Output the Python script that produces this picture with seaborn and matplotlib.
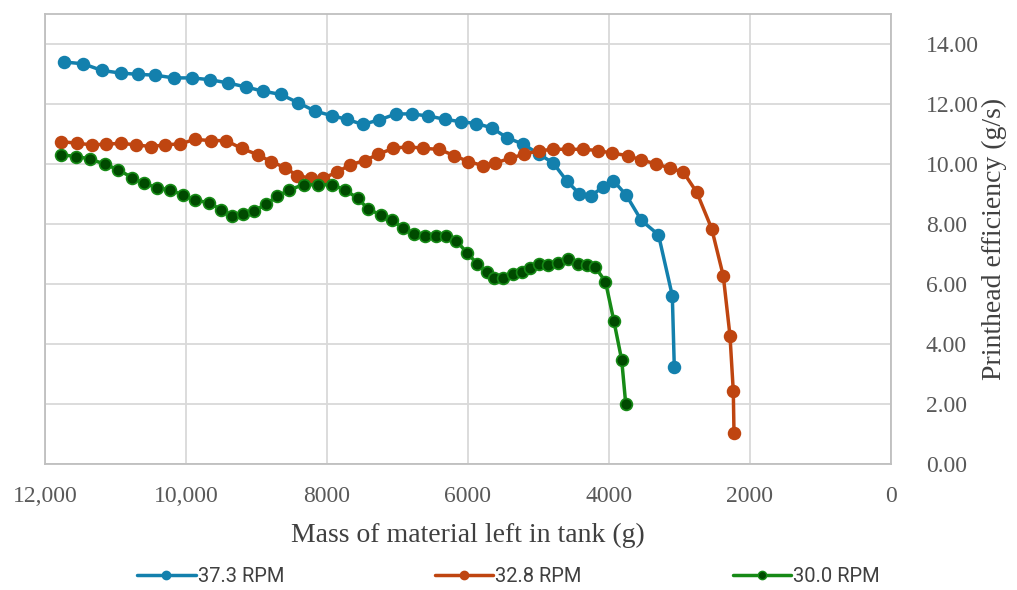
import numpy as np
import pandas as pd
import matplotlib
matplotlib.use("Agg")
import matplotlib.pyplot as plt
from matplotlib.lines import Line2D
import seaborn as sns

# Mass of material left in tank (g) and printhead efficiency (g/s) for each rotor speed
mass_373 = [11730, 11457, 11196, 10926, 10685, 10435, 10175, 9915, 9660, 9400,
            9153, 8912, 8657, 8416, 8166, 7929, 7721, 7494, 7258, 7021,
            6799, 6563, 6326, 6104, 5887, 5664, 5451, 5216, 4993, 4790,
            4600, 4419, 4260, 4089, 3939, 3755, 3541, 3298, 3102, 3074]
eff_373 = [13.40, 13.34, 13.12, 13.03, 12.99, 12.96, 12.87, 12.87, 12.81, 12.70,
           12.57, 12.43, 12.32, 12.05, 11.76, 11.61, 11.49, 11.32, 11.47, 11.67,
           11.67, 11.60, 11.49, 11.41, 11.35, 11.21, 10.88, 10.66, 10.33, 10.03,
           9.44, 9.00, 8.94, 9.22, 9.45, 8.96, 8.12, 7.64, 5.61, 3.25]

mass_328 = [11777, 11542, 11338, 11135, 10926, 10714, 10496, 10298, 10085, 9872,
            9650, 9433, 9210, 8983, 8794, 8596, 8421, 8231, 8053, 7863,
            7668, 7467, 7272, 7060, 6847, 6634, 6412, 6194, 5996, 5792,
            5617, 5404, 5202, 4993, 4790, 4577, 4373, 4152, 3958, 3731,
            3542, 3334, 3135, 2946, 2756, 2544, 2379, 2284, 2237, 2227]
eff_328 = [10.75, 10.69, 10.64, 10.66, 10.69, 10.64, 10.58, 10.64, 10.67, 10.82,
           10.78, 10.78, 10.52, 10.31, 10.08, 9.88, 9.61, 9.53, 9.53, 9.72,
           9.98, 10.11, 10.33, 10.52, 10.58, 10.52, 10.49, 10.28, 10.08, 9.95,
           10.03, 10.19, 10.33, 10.44, 10.49, 10.49, 10.49, 10.45, 10.36, 10.28,
           10.13, 10.01, 9.86, 9.73, 9.06, 7.85, 6.27, 4.28, 2.43, 1.04]

mass_300 = [11777, 11560, 11362, 11149, 10960, 10770, 10592, 10407, 10227, 10038,
            9872, 9671, 9508, 9348, 9192, 9038, 8865, 8705, 8535, 8331,
            8132, 7933, 7745, 7567, 7419, 7241, 7071, 6926, 6770, 6614,
            6454, 6307, 6165, 6014, 5868, 5735, 5631, 5499, 5366, 5234,
            5116, 4999, 4861, 4719, 4577, 4446, 4319, 4199, 4050, 3932,
            3820, 3763]
eff_300 = [10.31, 10.25, 10.17, 9.99, 9.81, 9.55, 9.36, 9.20, 9.14, 8.96,
           8.79, 8.71, 8.48, 8.28, 8.34, 8.42, 8.67, 8.92, 9.14, 9.31,
           9.31, 9.31, 9.14, 8.86, 8.51, 8.30, 8.13, 7.87, 7.66, 7.59,
           7.59, 7.59, 7.44, 7.04, 6.67, 6.39, 6.21, 6.19, 6.33, 6.39,
           6.54, 6.67, 6.62, 6.71, 6.84, 6.68, 6.62, 6.57, 6.08, 4.78,
           3.47, 2.01]

series_names = ["37.3 RPM", "32.8 RPM", "30.0 RPM"]
x_ticks = [12000, 10000, 8000, 6000, 4000, 2000, 0]
x_tick_labels = ["12,000", "10,000", "8000", "6000", "4000", "2000", "0"]
y_ticks = [0, 2, 4, 6, 8, 10, 12, 14]
y_tick_labels = ["0.00", "2.00", "4.00", "6.00", "8.00", "10.00", "12.00", "14.00"]

line_colors = ["#1380ad", "#bf4510", "#168a16"]
face_colors = ["#1380ad", "#bf4510", "#004a00"]

df = pd.concat([
    pd.DataFrame({"mass": mass_373, "eff": eff_373, "series": series_names[0]}),
    pd.DataFrame({"mass": mass_328, "eff": eff_328, "series": series_names[1]}),
    pd.DataFrame({"mass": mass_300, "eff": eff_300, "series": series_names[2]}),
], ignore_index=True)

sns.set_theme(style="white")
plt.rcParams["font.family"] = ["Liberation Serif", "DejaVu Serif"]

fig = plt.figure(figsize=(10.17, 5.90), dpi=100)
ax = fig.add_axes([45 / 1017, (590 - 464) / 590, (891 - 45) / 1017, (464 - 14) / 590])

for name, lc, fc in zip(series_names, line_colors, face_colors):
    sub = df[df["series"] == name]
    sns.lineplot(data=sub, x="mass", y="eff", ax=ax, sort=False, color=lc,
                 linewidth=2.5, marker="o", markersize=8.5,
                 markerfacecolor=fc, markeredgecolor=lc, markeredgewidth=1.2,
                 legend=False, zorder=3)

ax.set_xlim(12000, 0)
ax.set_ylim(0, 15)
ax.set_xticks(x_ticks)
ax.set_xticklabels(x_tick_labels)
ax.set_yticks(y_ticks)
ax.set_yticklabels(y_tick_labels)
ax.yaxis.tick_right()
ax.yaxis.set_label_position("right")

ax.grid(True, color="#d9d9d9", linewidth=1.3, zorder=0)
ax.set_axisbelow(True)
for side in ["left", "right", "top", "bottom"]:
    ax.spines[side].set_visible(True)
    ax.spines[side].set_color("#bfbfbf")
    ax.spines[side].set_linewidth(1.3)

ax.tick_params(axis="both", length=0, labelsize=17, colors="#595959")
ax.tick_params(axis="x", pad=16)
ax.tick_params(axis="y", pad=25)

ax.set_xlabel("Mass of material left in tank (g)", fontsize=20, color="#404040", labelpad=11)
ax.set_ylabel("Printhead efficiency (g/s)", fontsize=20, color="#404040", labelpad=2)

handles = [Line2D([0], [0], color=lc, linewidth=2.5, marker="o", markersize=6,
                  markerfacecolor=fc, markeredgecolor=lc)
           for lc, fc in zip(line_colors, face_colors)]
leg = fig.legend(handles, series_names, loc="center", bbox_to_anchor=(0.5, 13 / 590),
                 ncol=3, frameon=False, handlelength=2.9, columnspacing=7.5,
                 handletextpad=0.1, prop={"family": "Roboto", "size": 14.5})
for t in leg.get_texts():
    t.set_color("#404040")

fig.savefig("out.png", dpi=100, facecolor="white")
